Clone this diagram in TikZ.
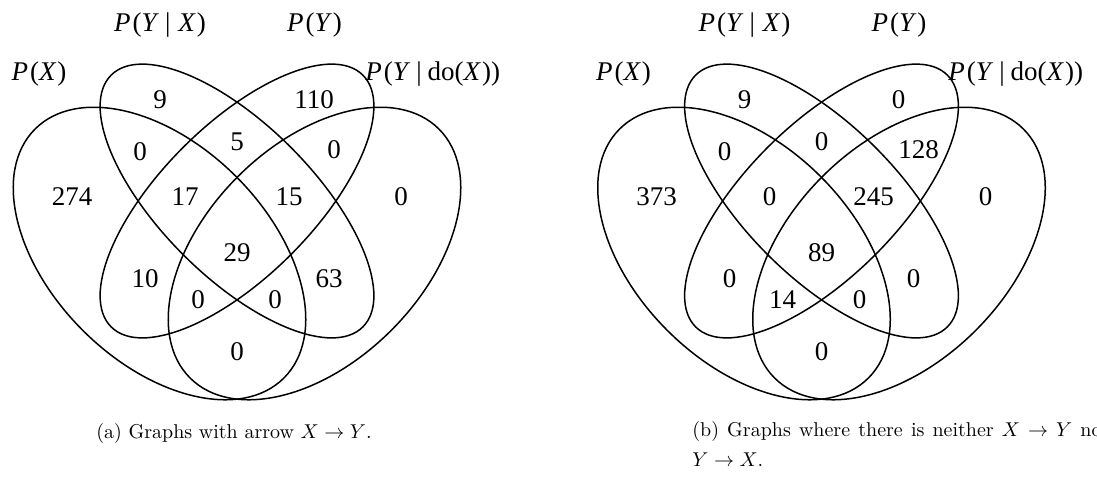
\documentclass[tikz,border=0pt]{standalone}
\usepackage{fontspec}
\newfontfamily\tms{Liberation Serif}
\newcommand\itm[1]{\textit{#1}}
\begin{document}
\begin{tikzpicture}[x=0.5pt,y=0.5pt,
  ell/.style={line width=0.75pt},
  num/.style={font=\tms\fontsize{13.5}{15}\selectfont, inner sep=0pt},
  lab/.style={font=\tms\fontsize{13.5}{15}\selectfont, inner sep=0pt, anchor=base},
  captxt/.style={font=\fontsize{10}{15}\selectfont, inner sep=0pt}]
\useasboundingbox (0,0) rectangle (1097,-494);
% ---------- left diagram ----------
\begin{scope}
\draw[ell, rotate around={-45:(159.5,-253.5)}] (159.5,-253.5) ellipse [x radius=176, y radius=108.6];
\draw[ell, rotate around={45:(314.5,-253.5)}] (314.5,-253.5) ellipse [x radius=176, y radius=108.6];
\draw[ell, rotate around={-45:(237,-201)}] (237,-201) ellipse [x radius=178, y radius=76];
\draw[ell, rotate around={45:(237,-201)}] (237,-201) ellipse [x radius=178, y radius=76];
\node[lab] (la1) at (39,-80) {\itm{P}\kern1pt(\itm{X}\kern0.5pt)};
\node[lab] (la2) at (160,-31) {\itm{P}\kern1pt(\itm{Y}\kern3pt|\kern4pt\itm{X}\kern0.5pt)};
\node[lab] (la3) at (314.5,-31) {\itm{P}\kern1pt(\itm{Y}\kern0.5pt)};
\node[lab, anchor=base west] (la4) at (365,-80) {\itm{P}\kern1pt(\itm{Y}\kern3pt|\kern3pt do(\itm{X}\kern0.5pt))};
\node[num] (a1) at (160,-100) {9};
\node[num] (a2) at (140,-152) {0};
\node[num] (a3) at (72,-197) {274};
\node[num] (a4) at (185,-197) {17};
\node[num] (a5) at (237,-142) {5};
\node[num] (a6) at (314,-100) {110};
\node[num] (a7) at (334,-150) {0};
\node[num] (a8) at (289,-197) {15};
\node[num] (a9) at (401,-197) {0};
\node[num] (a10) at (237,-253) {29};
\node[num] (a11) at (145,-279) {10};
\node[num] (a12) at (198,-300) {0};
\node[num] (a13) at (275,-300) {0};
\node[num] (a14) at (329,-279) {63};
\node[num] (a15) at (237,-352) {0};
\end{scope}
% ---------- right diagram ----------
\begin{scope}[shift={(584.5,0)}]
\draw[ell, rotate around={-45:(159.5,-253.5)}] (159.5,-253.5) ellipse [x radius=176, y radius=108.6];
\draw[ell, rotate around={45:(314.5,-253.5)}] (314.5,-253.5) ellipse [x radius=176, y radius=108.6];
\draw[ell, rotate around={-45:(237,-201)}] (237,-201) ellipse [x radius=178, y radius=76];
\draw[ell, rotate around={45:(237,-201)}] (237,-201) ellipse [x radius=178, y radius=76];
\node[lab] (lb1) at (39,-80) {\itm{P}\kern1pt(\itm{X}\kern0.5pt)};
\node[lab] (lb2) at (160,-31) {\itm{P}\kern1pt(\itm{Y}\kern3pt|\kern4pt\itm{X}\kern0.5pt)};
\node[lab] (lb3) at (314.5,-31) {\itm{P}\kern1pt(\itm{Y}\kern0.5pt)};
\node[lab, anchor=base west] (lb4) at (363.5,-80) {\itm{P}\kern1pt(\itm{Y}\kern3pt|\kern3pt do(\itm{X}\kern0.5pt))};
\node[num] (b1) at (160,-100) {9};
\node[num] (b2) at (140,-152) {0};
\node[num] (b3) at (72,-197) {373};
\node[num] (b4) at (185,-197) {0};
\node[num] (b5) at (237,-142) {0};
\node[num] (b6) at (314,-100) {0};
\node[num] (b7) at (334,-150) {128};
\node[num] (b8) at (289,-197) {245};
\node[num] (b9) at (401,-197) {0};
\node[num] (b10) at (237,-253) {89};
\node[num] (b11) at (145,-279) {0};
\node[num] (b12) at (198,-300) {14};
\node[num] (b13) at (275,-300) {0};
\node[num] (b14) at (329,-279) {0};
\node[num] (b15) at (237,-352) {0};
\end{scope}
% ---------- captions ----------
\node[captxt, anchor=base] (capa) at (234,-438) {(a) Graphs with arrow $X \to Y$.};
\node[captxt, anchor=north west, text width=208.5pt, align=justify] (capb) at (692,-421)
  {(b) Graphs where there is neither $X \to Y$ nor\linebreak $Y \to X$.};
\end{tikzpicture}
\end{document}
